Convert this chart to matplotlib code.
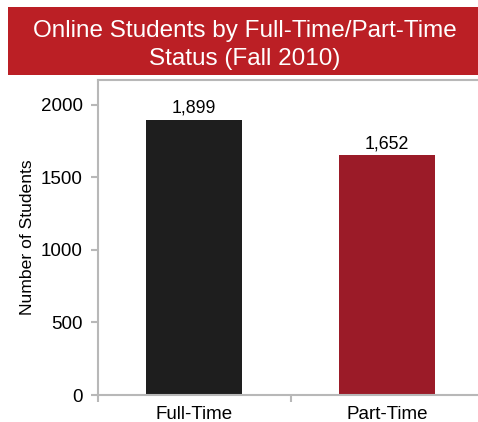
import matplotlib.pyplot as plt
from matplotlib.patches import Rectangle

plt.rcParams['font.family'] = ['Liberation Sans', 'DejaVu Sans']

categories = ["Full-Time", "Part-Time"]
students = [1899, 1652]
bar_colors = ["#1e1e1e", "#9b1b28"]
y_ticks = [0, 500, 1000, 1500, 2000]

GRAY = "#b8b8b8"

fig = plt.figure(figsize=(4.78, 4.22), dpi=100)

# red title banner
fig.patches.append(Rectangle((8 / 478, 1 - 75 / 422), 470 / 478, 68 / 422,
                             transform=fig.transFigure, facecolor="#bb1f25",
                             edgecolor="none", zorder=0))
fig.text(245 / 478, 1 - 45 / 422,
         "Online Students by Full-Time/Part-Time\nStatus (Fall 2010)",
         color="white", fontsize=17.5, ha="center", va="center",
         linespacing=1.35)

# axes: left at x=98, bottom at y=395, top at y=80; right edge off figure
left, right = 98 / 478, 483 / 478
bottom, top = 1 - 395 / 422, 1 - 80 / 422
ax = fig.add_axes([left, bottom, right - left, top - bottom])

x = list(range(len(categories)))
ax.bar(x, students, width=0.5, color=bar_colors, zorder=2)
for xi, v in zip(x, students):
    ax.text(xi, v + 20, f"{v:,}", ha="center", va="bottom", fontsize=12.8)

ax.set_xlim(-0.5, 1.5)
ax.set_ylim(0, 2172)
ax.set_yticks(y_ticks)
ax.set_xticks(x)
ax.set_xticklabels(categories, fontsize=13.5)
ax.set_xticks([-0.5, 0.5, 1.5], minor=True)
ax.tick_params(axis="x", which="major", length=0, pad=8)
ax.tick_params(axis="x", which="minor", length=5, color=GRAY, width=1.5, direction="out")
ax.tick_params(axis="y", length=5, color=GRAY, width=1.5, labelsize=13.5, pad=6)
ax.set_ylabel("Number of Students", fontsize=12.6, labelpad=4)

for side in ["left", "bottom", "top"]:
    ax.spines[side].set_color(GRAY)
    ax.spines[side].set_linewidth(1.5)
ax.spines["right"].set_visible(False)

fig.savefig("out.png", dpi=100)
